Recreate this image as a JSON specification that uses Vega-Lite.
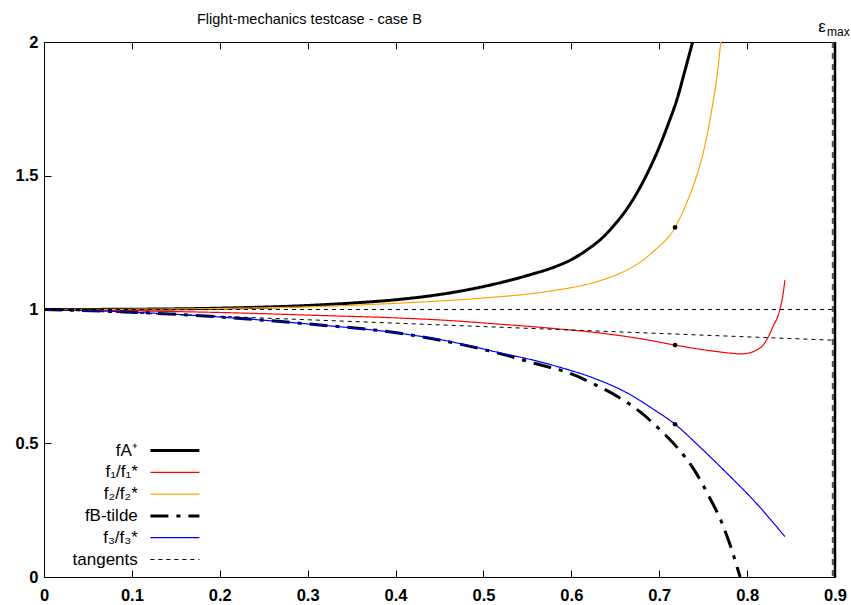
{
  "$schema": "https://vega.github.io/schema/vega-lite/v6.json",
  "width": 791,
  "height": 535,
  "autosize": "none",
  "padding": {"left": 44, "top": 42, "right": 16, "bottom": 28},
  "background": "white",
  "config": {
    "view": {"stroke": "black", "strokeWidth": 1},
    "font": "Liberation Sans",
    "axis": {"grid": false, "domain": false, "tickColor": "black", "labelColor": "black", "labelFont": "Liberation Sans", "labelFontSize": 16.5, "labelFontWeight": "bold", "labelFlush": false, "labelOverlap": false, "title": null},
    "legend": {"title": null, "orient": "none", "legendX": 122.4, "legendY": 400, "labelAlign": "right", "labelOffset": -45.6, "symbolType": "M-4,0H4", "symbolSize": 150, "rowPadding": 3.8, "padding": 0, "labelFontSize": 17, "labelFont": "Liberation Sans", "labelColor": "black", "labelLimit": 300}
  },
  "title": {"text": "Flight-mechanics testcase - case B", "anchor": "start", "frame": "group", "dx": 153, "offset": -20, "baseline": "alphabetic", "fontSize": 14.5, "fontWeight": "normal", "font": "Liberation Sans", "color": "black"},
  "datasets": {
    "curves": [
      {"series": "fA⁺", "seg": "a", "x": 0, "y": 1},
      {"series": "fA⁺", "seg": "a", "x": 0.1, "y": 1.001},
      {"series": "fA⁺", "seg": "a", "x": 0.2, "y": 1.005},
      {"series": "fA⁺", "seg": "a", "x": 0.3, "y": 1.015},
      {"series": "fA⁺", "seg": "a", "x": 0.35, "y": 1.024},
      {"series": "fA⁺", "seg": "a", "x": 0.405, "y": 1.038},
      {"series": "fA⁺", "seg": "a", "x": 0.45, "y": 1.056},
      {"series": "fA⁺", "seg": "a", "x": 0.496, "y": 1.083},
      {"series": "fA⁺", "seg": "a", "x": 0.553, "y": 1.13},
      {"series": "fA⁺", "seg": "a", "x": 0.58, "y": 1.158},
      {"series": "fA⁺", "seg": "a", "x": 0.602, "y": 1.19},
      {"series": "fA⁺", "seg": "a", "x": 0.62, "y": 1.228},
      {"series": "fA⁺", "seg": "a", "x": 0.636, "y": 1.27},
      {"series": "fA⁺", "seg": "a", "x": 0.65, "y": 1.32},
      {"series": "fA⁺", "seg": "a", "x": 0.663, "y": 1.375},
      {"series": "fA⁺", "seg": "a", "x": 0.682, "y": 1.48},
      {"series": "fA⁺", "seg": "a", "x": 0.701, "y": 1.615},
      {"series": "fA⁺", "seg": "a", "x": 0.711, "y": 1.7},
      {"series": "fA⁺", "seg": "a", "x": 0.72, "y": 1.783},
      {"series": "fA⁺", "seg": "a", "x": 0.729, "y": 1.89},
      {"series": "fA⁺", "seg": "a", "x": 0.738, "y": 2.0},

      {"series": "f₁/f₁*", "seg": "a", "x": 0, "y": 1},
      {"series": "f₁/f₁*", "seg": "a", "x": 0.1, "y": 0.995},
      {"series": "f₁/f₁*", "seg": "a", "x": 0.223, "y": 0.987},
      {"series": "f₁/f₁*", "seg": "a", "x": 0.3, "y": 0.979},
      {"series": "f₁/f₁*", "seg": "a", "x": 0.405, "y": 0.968},
      {"series": "f₁/f₁*", "seg": "a", "x": 0.45, "y": 0.961},
      {"series": "f₁/f₁*", "seg": "a", "x": 0.519, "y": 0.945},
      {"series": "f₁/f₁*", "seg": "a", "x": 0.58, "y": 0.929},
      {"series": "f₁/f₁*", "seg": "a", "x": 0.633, "y": 0.912},
      {"series": "f₁/f₁*", "seg": "a", "x": 0.68, "y": 0.89},
      {"series": "f₁/f₁*", "seg": "a", "x": 0.718, "y": 0.867},
      {"series": "f₁/f₁*", "seg": "a", "x": 0.745, "y": 0.852},
      {"series": "f₁/f₁*", "seg": "a", "x": 0.765, "y": 0.843},
      {"series": "f₁/f₁*", "seg": "a", "x": 0.78, "y": 0.837},
      {"series": "f₁/f₁*", "seg": "a", "x": 0.792, "y": 0.834},
      {"series": "f₁/f₁*", "seg": "a", "x": 0.803, "y": 0.838},
      {"series": "f₁/f₁*", "seg": "a", "x": 0.811, "y": 0.849},
      {"series": "f₁/f₁*", "seg": "a", "x": 0.818, "y": 0.866},
      {"series": "f₁/f₁*", "seg": "a", "x": 0.824, "y": 0.897},
      {"series": "f₁/f₁*", "seg": "a", "x": 0.83, "y": 0.94},
      {"series": "f₁/f₁*", "seg": "a", "x": 0.835, "y": 0.975},
      {"series": "f₁/f₁*", "seg": "a", "x": 0.838, "y": 1.01},
      {"series": "f₁/f₁*", "seg": "a", "x": 0.841, "y": 1.06},
      {"series": "f₁/f₁*", "seg": "a", "x": 0.843, "y": 1.11},

      {"series": "f₂/f₂*", "seg": "a", "x": 0, "y": 1},
      {"series": "f₂/f₂*", "seg": "a", "x": 0.1, "y": 1.001},
      {"series": "f₂/f₂*", "seg": "a", "x": 0.2, "y": 1.004},
      {"series": "f₂/f₂*", "seg": "a", "x": 0.3, "y": 1.01},
      {"series": "f₂/f₂*", "seg": "a", "x": 0.405, "y": 1.024},
      {"series": "f₂/f₂*", "seg": "a", "x": 0.496, "y": 1.042},
      {"series": "f₂/f₂*", "seg": "a", "x": 0.572, "y": 1.067},
      {"series": "f₂/f₂*", "seg": "a", "x": 0.629, "y": 1.104},
      {"series": "f₂/f₂*", "seg": "a", "x": 0.65, "y": 1.128},
      {"series": "f₂/f₂*", "seg": "a", "x": 0.667, "y": 1.154},
      {"series": "f₂/f₂*", "seg": "a", "x": 0.693, "y": 1.216},
      {"series": "f₂/f₂*", "seg": "a", "x": 0.718, "y": 1.307},
      {"series": "f₂/f₂*", "seg": "a", "x": 0.731, "y": 1.397},
      {"series": "f₂/f₂*", "seg": "a", "x": 0.741, "y": 1.484},
      {"series": "f₂/f₂*", "seg": "a", "x": 0.75, "y": 1.585},
      {"series": "f₂/f₂*", "seg": "a", "x": 0.761, "y": 1.771},
      {"series": "f₂/f₂*", "seg": "a", "x": 0.766, "y": 1.88},
      {"series": "f₂/f₂*", "seg": "a", "x": 0.77, "y": 2.0},

      {"series": "fB-tilde", "seg": "a", "x": 0, "y": 1},
      {"series": "fB-tilde", "seg": "a", "x": 0.1, "y": 0.99},
      {"series": "fB-tilde", "seg": "a", "x": 0.2, "y": 0.972},
      {"series": "fB-tilde", "seg": "a", "x": 0.3, "y": 0.946},
      {"series": "fB-tilde", "seg": "a", "x": 0.405, "y": 0.911},
      {"series": "fB-tilde", "seg": "a", "x": 0.45, "y": 0.886},
      {"series": "fB-tilde", "seg": "a", "x": 0.519, "y": 0.835},
      {"series": "fB-tilde", "seg": "a", "x": 0.56, "y": 0.797},
      {"series": "fB-tilde", "seg": "a", "x": 0.598, "y": 0.762},
      {"series": "fB-tilde", "seg": "a", "x": 0.625, "y": 0.722},
      {"series": "fB-tilde", "seg": "a", "x": 0.653, "y": 0.674},
      {"series": "fB-tilde", "seg": "a", "x": 0.678, "y": 0.618},
      {"series": "fB-tilde", "seg": "a", "x": 0.701, "y": 0.55},
      {"series": "fB-tilde", "seg": "a", "x": 0.722, "y": 0.478},
      {"series": "fB-tilde", "seg": "a", "x": 0.741, "y": 0.394},
      {"series": "fB-tilde", "seg": "a", "x": 0.756, "y": 0.305},
      {"series": "fB-tilde", "seg": "a", "x": 0.771, "y": 0.205},
      {"series": "fB-tilde", "seg": "a", "x": 0.782, "y": 0.107},
      {"series": "fB-tilde", "seg": "a", "x": 0.792, "y": 0.0},

      {"series": "f₃/f₃*", "seg": "a", "x": 0, "y": 1},
      {"series": "f₃/f₃*", "seg": "a", "x": 0.1, "y": 0.99},
      {"series": "f₃/f₃*", "seg": "a", "x": 0.2, "y": 0.972},
      {"series": "f₃/f₃*", "seg": "a", "x": 0.3, "y": 0.946},
      {"series": "f₃/f₃*", "seg": "a", "x": 0.405, "y": 0.911},
      {"series": "f₃/f₃*", "seg": "a", "x": 0.45, "y": 0.888},
      {"series": "f₃/f₃*", "seg": "a", "x": 0.519, "y": 0.838},
      {"series": "f₃/f₃*", "seg": "a", "x": 0.56, "y": 0.808},
      {"series": "f₃/f₃*", "seg": "a", "x": 0.587, "y": 0.784},
      {"series": "f₃/f₃*", "seg": "a", "x": 0.625, "y": 0.744},
      {"series": "f₃/f₃*", "seg": "a", "x": 0.663, "y": 0.689},
      {"series": "f₃/f₃*", "seg": "a", "x": 0.693, "y": 0.628},
      {"series": "f₃/f₃*", "seg": "a", "x": 0.718, "y": 0.571},
      {"series": "f₃/f₃*", "seg": "a", "x": 0.746, "y": 0.487},
      {"series": "f₃/f₃*", "seg": "a", "x": 0.777, "y": 0.388},
      {"series": "f₃/f₃*", "seg": "a", "x": 0.807, "y": 0.288},
      {"series": "f₃/f₃*", "seg": "a", "x": 0.843, "y": 0.151},

      {"series": "tangents", "seg": "h", "x": 0, "y": 1},
      {"series": "tangents", "seg": "h", "x": 0.9, "y": 1},
      {"series": "tangents", "seg": "s", "x": 0, "y": 1},
      {"series": "tangents", "seg": "s", "x": 0.9, "y": 0.885}
    ],
    "dots": [
      {"x": 0.718, "y": 1.307},
      {"x": 0.718, "y": 0.867},
      {"x": 0.718, "y": 0.571}
    ],
    "axisref": [{"x": 0}]
  },
  "layer": [
    {
      "layer": [
        {
          "data": {"name": "curves"},
          "mark": {"type": "line", "clip": true, "interpolate": "monotone"},
          "encoding": {
            "x": {"field": "x", "type": "quantitative", "scale": {"domain": [0, 0.9], "nice": false},
              "axis": {"orient": "bottom", "values": [0, 0.1, 0.2, 0.3, 0.4, 0.5, 0.6, 0.7, 0.8, 0.9], "labelExpr": "datum.value == 0 ? '0' : format(datum.value, '.1f')", "tickSize": -7, "labelPadding": 17}},
            "y": {"field": "y", "type": "quantitative", "scale": {"domain": [0, 2], "nice": false},
              "axis": {"values": [0, 0.5, 1, 1.5, 2], "labelExpr": "format(datum.value, '~g')", "tickSize": -7, "labelPadding": 13}},
            "detail": {"field": "seg"},
            "color": {"field": "series", "type": "nominal",
              "scale": {"domain": ["fA⁺", "f₁/f₁*", "f₂/f₂*", "fB-tilde", "f₃/f₃*", "tangents"], "range": ["#000000", "#ff0000", "#ffa500", "#000000", "#0000ff", "#000000"]}},
            "strokeDash": {"field": "series", "type": "nominal",
              "scale": {"type": "ordinal", "domain": ["fA⁺", "f₁/f₁*", "f₂/f₂*", "fB-tilde", "f₃/f₃*", "tangents"], "range": [[1, 0], [1, 0], [1, 0], [18, 8, 4, 8], [1, 0], [4, 4]]}},
            "strokeWidth": {"field": "series", "type": "nominal",
              "scale": {"type": "ordinal", "domain": ["fA⁺", "f₁/f₁*", "f₂/f₂*", "fB-tilde", "f₃/f₃*", "tangents"], "range": [3, 1.2, 1.2, 3, 1.2, 1]}}
          }
        },
        {
          "data": {"name": "dots"},
          "mark": {"type": "point", "filled": true, "color": "black", "size": 22, "opacity": 1},
          "encoding": {
            "x": {"field": "x", "type": "quantitative"},
            "y": {"field": "y", "type": "quantitative"}
          }
        },
        {
          "data": {"values": [{"x": 0.8975}]},
          "mark": {"type": "rule", "color": "#555555", "strokeWidth": 2, "strokeDash": [6, 5]},
          "encoding": {"x": {"field": "x", "type": "quantitative"}}
        },
        {
          "data": {"values": [{"x": 0.9}]},
          "mark": {"type": "rule", "color": "black", "strokeWidth": 2.5},
          "encoding": {"x": {"field": "x", "type": "quantitative"}}
        },
        {
          "data": {"values": [{"t": "ε"}]},
          "mark": {"type": "text", "font": "Liberation Sans", "fontSize": 17, "align": "center", "baseline": "alphabetic", "dx": -13, "dy": -10, "color": "black"},
          "encoding": {"text": {"field": "t"}, "x": {"datum": 0.9}, "y": {"datum": 2}}
        },
        {
          "data": {"values": [{"t": "max"}]},
          "mark": {"type": "text", "font": "Liberation Sans", "fontSize": 12, "align": "left", "baseline": "alphabetic", "dx": -8, "dy": -6, "color": "black"},
          "encoding": {"text": {"field": "t"}, "x": {"datum": 0.9}, "y": {"datum": 2}}
        }
      ]
    },
    {
      "data": {"name": "axisref"},
      "mark": {"type": "rule", "opacity": 0},
      "encoding": {
        "x": {"field": "x", "type": "quantitative", "axis": {"orient": "top", "values": [0.1, 0.2, 0.3, 0.4, 0.5, 0.6, 0.7, 0.8], "labels": false, "tickSize": -7}}
      }
    }
  ],
  "resolve": {"axis": {"x": "independent"}}
}
